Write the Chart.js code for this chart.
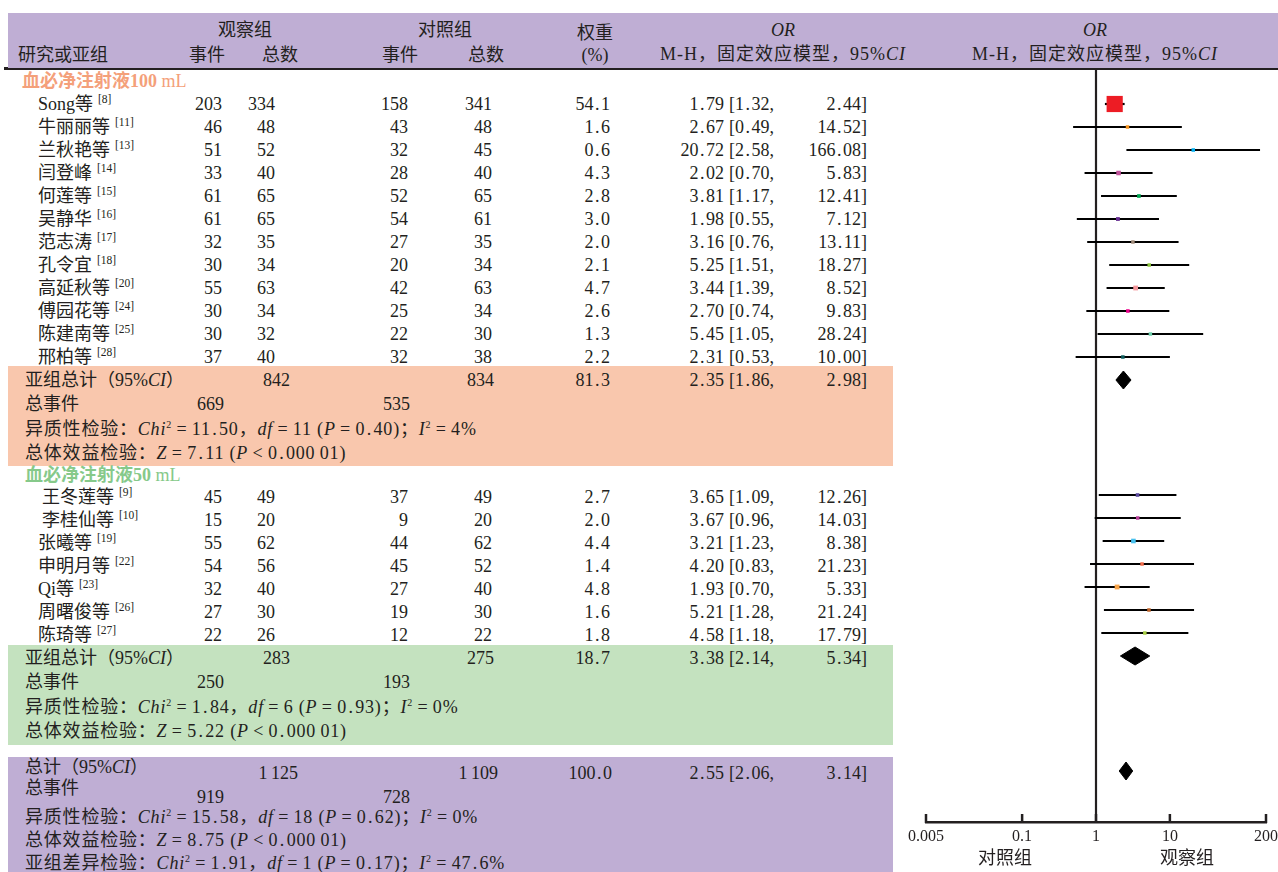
<!DOCTYPE html>
<html lang="zh-CN">
<head>
    <meta charset="UTF-8">
    <title>血必净注射液 森林图</title>
    <script src="https://cdn.jsdelivr.net/npm/chart.js"></script>
    <style>
        body { margin: 0; background: #fff; }
        #page {
            position: relative; width: 1278px; height: 872px; overflow: hidden;
            font-family: "Liberation Serif", "Noto Sans CJK SC", serif;
            font-size: 18px; color: #231f20;
        }
        .t { position: absolute; white-space: nowrap; line-height: 20px; }
        .box { position: absolute; }
        .ref { font-size: 11.5px; position: relative; top: -7px; margin-left: 5px; }
        sup { font-size: 10px; line-height: 0; }
        .dot { margin: 0 1.5px; }
        .stat { letter-spacing: 0.8px; }
        .hd { letter-spacing: 1px; }
        .g1 { color: #f4a07a; }
        .g2 { color: #86c98a; }
        .g1 b, .g2 b { font-weight: 600; }
        #plot { position: absolute; left: 900px; top: 69px; width: 383px; height: 803px; }
    </style>
</head>
<body>
<div id="page">
    <div id="plot"><canvas id="forest"></canvas></div>
</div>
<script>
    // ---- 数据 ----
    const groupNames = ['血必净注射液100', '血必净注射液50'];
    const groupSizes = [12, 7];

    const studyNames = ['Song等', '牛丽丽等', '兰秋艳等', '闫登峰', '何莲等', '吴静华', '范志涛', '孔令宜',
        '高延秋等', '傅园花等', '陈建南等', '邢柏等',
        '王冬莲等', '李桂仙等', '张曦等', '申明月等', 'Qi等', '周曙俊等', '陈琦等'];
    const studyRefs = [8, 11, 13, 14, 15, 16, 17, 18, 20, 24, 25, 28, 9, 10, 19, 22, 23, 26, 27];
    const obsEvents = [203, 46, 51, 33, 61, 61, 32, 30, 55, 30, 30, 37, 45, 15, 55, 54, 32, 27, 22];
    const obsTotal = [334, 48, 52, 40, 65, 65, 35, 34, 63, 34, 32, 40, 49, 20, 62, 56, 40, 30, 26];
    const ctrlEvents = [158, 43, 32, 28, 52, 54, 27, 20, 42, 25, 22, 32, 37, 9, 44, 45, 27, 19, 12];
    const ctrlTotal = [341, 48, 45, 40, 65, 61, 35, 34, 63, 34, 30, 38, 49, 20, 62, 52, 40, 30, 22];
    const weights = [54.1, 1.6, 0.6, 4.3, 2.8, 3.0, 2.0, 2.1, 4.7, 2.6, 1.3, 2.2, 2.7, 2.0, 4.4, 1.4, 4.8, 1.6, 1.8];
    const orEst = [1.79, 2.67, 20.72, 2.02, 3.81, 1.98, 3.16, 5.25, 3.44, 2.70, 5.45, 2.31,
        3.65, 3.67, 3.21, 4.20, 1.93, 5.21, 4.58];
    const orLow = [1.32, 0.49, 2.58, 0.70, 1.17, 0.55, 0.76, 1.51, 1.39, 0.74, 1.05, 0.53,
        1.09, 0.96, 1.23, 0.83, 0.70, 1.28, 1.18];
    const orHigh = [2.44, 14.52, 166.08, 5.83, 12.41, 7.12, 13.11, 18.27, 8.52, 9.83, 28.24, 10.00,
        12.26, 14.03, 8.38, 21.23, 5.33, 21.24, 17.79];
    const markerColors = ['#ed1c24', '#f7941d', '#00aeef', '#c2549c', '#00a651', '#662d91', '#a08b7a',
        '#8dc63f', '#f4989d', '#ec008c', '#6fcfac', '#0e5e5e',
        '#5b4a9f', '#b8409a', '#47c0ee', '#f26b4a', '#f9a54a', '#c1652b', '#a8cf45'];

    // 亚组合计 (0, 1) 与总计 (2)
    const sumObsTotal = [842, 283, 1125];
    const sumCtrlTotal = [834, 275, 1109];
    const sumWeight = [81.3, 18.7, 100.0];
    const sumOr = [2.35, 3.38, 2.55];
    const sumLow = [1.86, 2.14, 2.06];
    const sumHigh = [2.98, 5.34, 3.14];
    const sumObsEvents = [669, 250, 919];
    const sumCtrlEvents = [535, 193, 728];
    const hetChi = [11.50, 1.84, 15.58];
    const hetDf = [11, 6, 18];
    const hetP = ['0.40', '0.93', '0.62'];
    const hetI2 = [4, 0, 0];
    const zValue = ['7.11', '5.22', '8.75'];
    const diffTest = { chi: '1.91', df: 1, p: '0.17', i2: '47.6' };

    const axisTicks = [0.005, 0.1, 1, 10, 200];
    const tickLabels = ['0.005', '0.1', '1', '10', '200'];

    // ---- 版面 ----
    const ROW0 = 81, ROWH = 23, PLOT_TOP = 69, AXIS_Y = 822;
    const rowY = r => ROW0 + r * ROWH;
    const page = document.getElementById('page');

    function box(x, y, w, h, color) {
        const d = document.createElement('div');
        d.className = 'box';
        Object.assign(d.style, { left: x + 'px', top: y + 'px', width: w + 'px', height: h + 'px', background: color });
        page.insertBefore(d, page.firstChild);
    }

    function put(html, x, y, align, cls) {
        const d = document.createElement('div');
        d.className = 't ' + (cls || '');
        d.innerHTML = html;
        d.style.top = (y - 10) + 'px';
        if (align === 'right') d.style.right = (1278 - x) + 'px';
        else if (align === 'center') {
            d.style.left = (x - 150) + 'px'; d.style.width = '300px'; d.style.textAlign = 'center';
        } else d.style.left = x + 'px';
        page.appendChild(d);
    }

    const dots = s => String(s).replace(/\./g, '<span class="dot">.</span>');
    const fmtInt = n => n >= 1000 ? String(n).replace(/(\d)(\d{3})$/, '$1\u2009$2') : String(n);
    const eq = '\u2009=\u2009';
    const hetLine = (k, label) => `${label}：<i>Chi</i><sup>2</sup>${eq}${dots(hetChi[k].toFixed(2))}，<i>df</i>${eq}${hetDf[k]}` +
        ` (<i>P</i>${eq}${dots(hetP[k])})；<i>I</i><sup>2</sup>${eq}${hetI2[k]}%`;
    const zLine = k => `总体效益检验：<i>Z</i>${eq}${dots(zValue[k])} (<i>P</i>\u2009&lt;\u2009${dots('0.000')}\u200901)`;

    function orText(y, est, lo, hi) {
        put(dots(est.toFixed(2)), 724, y, 'right');
        put('[' + dots(lo.toFixed(2)) + ',', 729, y, 'left');
        put(dots(hi.toFixed(2)) + ']', 867, y, 'right');
    }

    // 表头
    box(8, 13, 1270, 55, '#bfaed4');
    box(4, 67, 1274, 2.5, '#231f20');
    box(172, 40, 150, 2, '#231f20');
    box(364, 40, 161, 2, '#231f20');
    put('观察组', 245, 30, 'center');
    put('对照组', 445, 30, 'center');
    put('研究或亚组', 18, 55);
    put('事件', 207, 55, 'center');
    put('总数', 280, 55, 'center');
    put('事件', 400, 55, 'center');
    put('总数', 486, 55, 'center');
    put('权重', 595, 33, 'center');
    put('(%)', 595, 55, 'center');
    [783, 1095].forEach(cx => {
        put('<i>OR</i>', cx, 30, 'center');
        put('M-H，固定效应模型，95%<i>CI</i>', cx, 54, 'center', 'hd');
    });

    // 各行
    const studyRow = [];
    const sumRow = [];
    const bandColors = ['#f9c7ad', '#c4e2bf'];
    let r = 0, s = 0;
    groupSizes.forEach((n, g) => {
        put(`<b>${groupNames[g]}</b> mL`, g === 0 ? 22 : 25, rowY(r) + g * 3, 'left', 'g' + (g + 1));
        r++;
        for (let k = 0; k < n; k++, s++, r++) {
            const y = rowY(r) + (g === 1 ? 2 : 0);
            studyRow.push(r);
            put(`${studyNames[s]}<span class="ref">[${studyRefs[s]}]</span>`, g === 1 && k < 2 ? 42 : 38, y);
            put(obsEvents[s], 222, y, 'right');
            put(obsTotal[s], 275, y, 'right');
            put(ctrlEvents[s], 408, y, 'right');
            put(ctrlTotal[s], 492, y, 'right');
            put(dots(weights[s].toFixed(1)), 610, y, 'right');
            orText(y, orEst[s], orLow[s], orHigh[s]);
        }
        box(8, rowY(r) - 14 + g * 3, 885, 4 * ROWH + 8, bandColors[g]);
        sumRow.push(r);
        const ty = j => rowY(r + j) + j * 1.3 + g * 2;
        put('亚组总计（95%<i>CI</i>）', 25, ty(0));
        put(sumObsTotal[g], 290, ty(0), 'right');
        put(sumCtrlTotal[g], 494, ty(0), 'right');
        put(dots(sumWeight[g].toFixed(1)), 610, ty(0), 'right');
        orText(ty(0), sumOr[g], sumLow[g], sumHigh[g]);
        put('总事件', 25, ty(1));
        put(sumObsEvents[g], 224, ty(1), 'right');
        put(sumCtrlEvents[g], 410, ty(1), 'right');
        put(hetLine(g, '异质性检验'), 25, ty(2), 'left', 'stat');
        put(zLine(g), 25, ty(3), 'left', 'stat');
        r += 4;
    });

    // 总计
    r++;
    box(8, rowY(r) - 14, 885, 130, '#bfaed4');
    sumRow.push(r);
    put('总计（95%<i>CI</i>）', 25, rowY(r) - 4);
    put(fmtInt(sumObsTotal[2]), 298, rowY(r) + 2, 'right');
    put(fmtInt(sumCtrlTotal[2]), 498, rowY(r) + 2, 'right');
    put(dots(sumWeight[2].toFixed(1)), 612, rowY(r) + 2, 'right');
    orText(rowY(r) + 2, sumOr[2], sumLow[2], sumHigh[2]);
    put('总事件', 25, rowY(r + 1) - 6);
    put(sumObsEvents[2], 224, rowY(r + 1) + 3, 'right');
    put(sumCtrlEvents[2], 410, rowY(r + 1) + 3, 'right');
    put(hetLine(2, '异质性检验'), 25, rowY(r + 2), 'left', 'stat');
    put(zLine(2), 25, rowY(r + 3), 'left', 'stat');
    put(`亚组差异检验：<i>Chi</i><sup>2</sup>${eq}${dots(diffTest.chi)}，<i>df</i>${eq}${diffTest.df}` +
        ` (<i>P</i>${eq}${dots(diffTest.p)})；<i>I</i><sup>2</sup>${eq}${dots(diffTest.i2)}%`, 25, rowY(r + 4), 'left', 'stat');

    put('对照组', 1005, 858, 'center');
    put('观察组', 1187, 858, 'center');

    // ---- 森林图 ----
    const yMin = (PLOT_TOP - ROW0) / ROWH;
    const yMax = (AXIS_Y - ROW0) / ROWH;
    const DH = 9 / ROWH;

    const datasets = [];
    datasets.push({
        data: orEst.map((v, k) => ({ x: v, y: studyRow[k] })),
        showLine: false,
        pointStyle: 'rect',
        pointRadius: weights.map(w => Math.max(3.5, Math.sqrt(w) * 2.2) / Math.SQRT2),
        pointBackgroundColor: markerColors,
        pointBorderWidth: 0,
        order: 0
    });
    orEst.forEach((v, k) => {
        datasets.push({
            data: [{ x: orLow[k], y: studyRow[k] }, { x: orHigh[k], y: studyRow[k] }],
            borderColor: '#000', borderWidth: 2.2, pointRadius: 0, order: 1
        });
    });
    sumOr.forEach((v, k) => {
        const y = sumRow[k];
        datasets.push({
            data: [{ x: sumLow[k], y: y }, { x: v, y: y - DH }, { x: sumHigh[k], y: y },
                { x: v, y: y + DH }, { x: sumLow[k], y: y }],
            fill: 'shape', backgroundColor: '#000', borderColor: '#000', borderWidth: 1,
            pointRadius: 0, tension: 0, order: 1
        });
    });
    datasets.push({
        data: [{ x: 1, y: yMin }, { x: 1, y: yMax }],
        borderColor: '#231f20', borderWidth: 2.2, pointRadius: 0, order: 2
    });

    const tickMarks = {
        id: 'tickMarks',
        afterDraw(chart) {
            const sx = chart.scales.x, ctx = chart.ctx, yb = chart.chartArea.bottom;
            ctx.save();
            ctx.strokeStyle = '#231f20';
            ctx.lineWidth = 2.5;
            sx.ticks.forEach(t => {
                const px = sx.getPixelForValue(t.value);
                ctx.beginPath();
                ctx.moveTo(px, yb + 1);
                ctx.lineTo(px, yb - 8);
                ctx.stroke();
            });
            ctx.restore();
        }
    };

    new Chart(document.getElementById('forest'), {
        type: 'line',
        data: { datasets: datasets },
        options: {
            responsive: true,
            maintainAspectRatio: false,
            animation: false,
            layout: { autoPadding: false, padding: { left: 26, right: 17, top: 0, bottom: 0 } },
            plugins: { legend: { display: false }, tooltip: { enabled: false } },
            events: [],
            scales: {
                x: {
                    type: 'logarithmic',
                    min: 0.005,
                    max: 200,
                    afterBuildTicks: sc => { sc.ticks = axisTicks.map(v => ({ value: v })); },
                    afterFit: sc => { sc.height = 50; },
                    grid: { display: false, drawTicks: false },
                    border: { display: true, color: '#231f20', width: 2.5 },
                    ticks: {
                        callback: (v, i) => tickLabels[i],
                        font: { family: 'Liberation Serif', size: 16 },
                        color: '#231f20',
                        padding: 5,
                        maxRotation: 0,
                        autoSkip: false
                    }
                },
                y: { type: 'linear', display: false, reverse: true, min: yMin, max: yMax }
            }
        },
        plugins: [tickMarks]
    });
</script>
</body>
</html>
